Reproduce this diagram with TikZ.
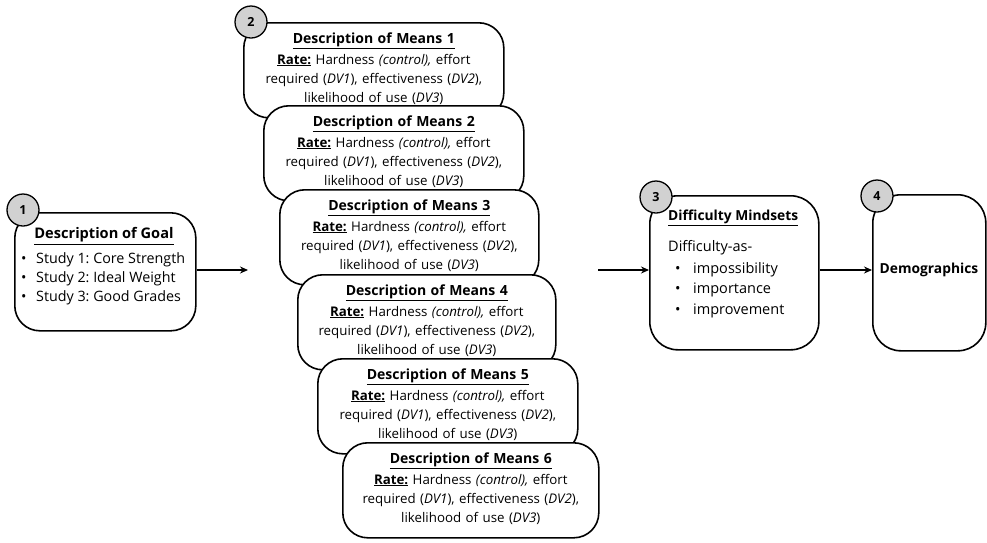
\documentclass[tikz,border=0pt]{standalone}
\usepackage{fontspec}
\setmainfont{Open Sans}
\usetikzlibrary{arrows.meta}
\frenchspacing
\begin{document}
\begin{tikzpicture}[x=1pt,y=-1pt,
  rbox/.style={draw=black, line width=1.6pt, rounded corners=25pt, fill=white, inner sep=0pt},
  numc/.style={circle, draw=black, line width=1.3pt, fill=black!18, minimum size=32pt, inner sep=0pt, font=\fontsize{12.5}{12.5}\selectfont\bfseries},
  meansbox/.style={rbox, anchor=north west, minimum height=95pt},
  meanstxt/.style={anchor=north, inner sep=0pt, text width=250pt, align=center, font=\fontsize{13.3}{19.2}\selectfont},
  conn/.style={line width=1.6pt, -{Stealth[length=8pt,width=7pt]}},
  body/.style={inner sep=0pt}
]
\useasboundingbox (0,0) rectangle (987,542);

% Box 1
\node[rbox, anchor=north west, minimum width=181pt, minimum height=118pt] (g) at (14,212) {};
\node[body, font=\fontsize{14.6}{15}\selectfont\bfseries] (gt) at (104,236) {\underline{Description of Goal}};
\node[body, anchor=west, font=\fontsize{14.3}{15}\selectfont] (g1) at (21,260) {\makebox[15pt][l]{\textbullet}Study 1: Core Strength};
\node[body, anchor=west, font=\fontsize{14.3}{15}\selectfont] (g2) at (21,279) {\makebox[15pt][l]{\textbullet}Study 2: Ideal Weight};
\node[body, anchor=west, font=\fontsize{14.3}{15}\selectfont] (g3) at (21,298) {\makebox[15pt][l]{\textbullet}Study 3: Good Grades};
\node[numc] (n1) at (23,210) {1};

% Means boxes
\newcommand{\meanstext}[1]{{\fontsize{14}{14}\selectfont\bfseries\underline{Description of Means #1}}\\[1.5pt] \underline{\textbf{Rate:}} Hardness \textit{(control),} effort\\ required (\textit{DV1}), effectiveness (\textit{DV2}),\\ likelihood of use (\textit{DV3})}
\node[meansbox, minimum width=260pt] (m1) at (243,22) {};
\node[meanstxt] (t1) at ([yshift=-10.5pt]m1.north) {\meanstext{1}};
\node[meansbox, minimum width=260pt] (m2) at (263,105) {};
\node[meanstxt] (t2) at ([yshift=-10.5pt]m2.north) {\meanstext{2}};
\node[meansbox, minimum width=259pt] (m3) at (279,189) {};
\node[meanstxt] (t3) at ([yshift=-10.5pt]m3.north) {\meanstext{3}};
\node[meansbox, minimum width=258pt] (m4) at (297,274) {};
\node[meanstxt] (t4) at ([yshift=-10.5pt]m4.north) {\meanstext{4}};
\node[meansbox, minimum width=260pt] (m5) at (317,358) {};
\node[meanstxt] (t5) at ([yshift=-10.5pt]m5.north) {\meanstext{5}};
\node[meansbox, minimum width=256pt] (m6) at (342,442) {};
\node[meanstxt] (t6) at ([yshift=-10.5pt]m6.north) {\meanstext{6}};
\node[numc] (n2) at (251,22) {2};

% Box 3
\node[rbox, rounded corners=28pt, anchor=north west, minimum width=169pt, minimum height=154pt] (d) at (649,195) {};
\node[body, anchor=west, font=\fontsize{13.8}{14}\selectfont\bfseries] (dt) at (668,218) {\underline{Difficulty Mindsets}};
\node[body, anchor=west, font=\fontsize{14.5}{15}\selectfont] (da) at (668,248) {Difficulty-as-};
\node[body, anchor=west, font=\fontsize{14.5}{15}\selectfont] (d1) at (675,270) {\makebox[18pt][l]{\textbullet}impossibility};
\node[body, anchor=west, font=\fontsize{14.5}{15}\selectfont] (d2) at (675,290) {\makebox[18pt][l]{\textbullet}importance};
\node[body, anchor=west, font=\fontsize{14.5}{15}\selectfont] (d3) at (675,311) {\makebox[18pt][l]{\textbullet}improvement};
\node[numc] (n3) at (656,197) {3};

% Box 4
\node[rbox, rounded corners=28pt, anchor=north west, minimum width=113pt, minimum height=156pt] (e) at (872,194) {};
\node[body, font=\fontsize{13.8}{14}\selectfont\bfseries] (et) at (929,270) {Demographics};
\node[numc] (n4) at (877,196) {4};

% Connectors
\coordinate (a1) at (248,270);
\coordinate (a2) at (598,270);
\draw[conn] (g.east |- a1) -- (a1);
\draw[conn] (a2) -- (d.west |- a2);
\draw[conn] (d.east |- a2) -- (e.west |- a2);
\end{tikzpicture}
\end{document}
